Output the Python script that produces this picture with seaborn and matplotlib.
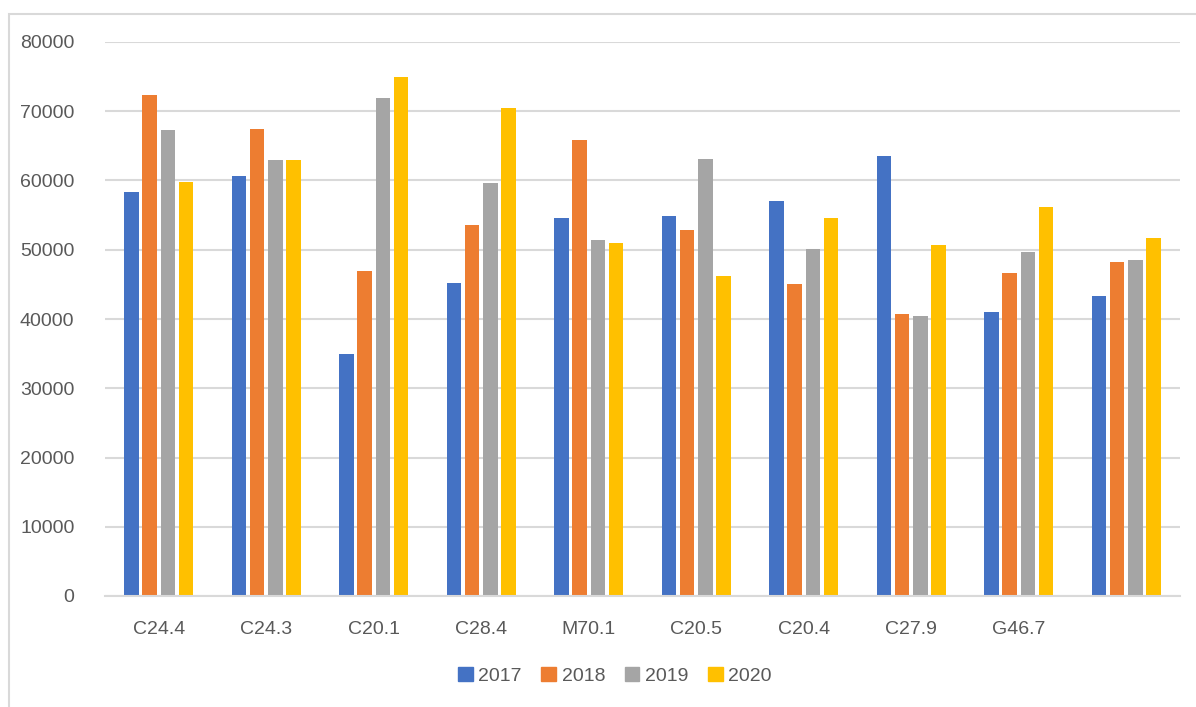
import matplotlib
matplotlib.use("Agg")
import matplotlib.pyplot as plt
from matplotlib.patches import Rectangle
import seaborn as sns
import pandas as pd

# category labels (last group has no label in the source)
categories = ['C24.4', 'C24.3', 'C20.1', 'C28.4', 'M70.1', 'C20.5', 'C20.4', 'C27.9', 'G46.7', ' ']
years = ['2017', '2018', '2019', '2020']

# values
values_2017 = [58300, 60600, 35000, 45150, 54570, 54900, 57100, 63500, 41000, 43300]
values_2018 = [72300, 67500, 46900, 53560, 65820, 52900, 45070, 40680, 46650, 48170]
values_2019 = [67260, 63000, 71880, 59570, 51340, 63130, 50140, 40480, 49610, 48560]
values_2020 = [59760, 63000, 74950, 70430, 50960, 46280, 54570, 50750, 56190, 51730]

colors = ['#4472C4', '#ED7D31', '#A5A5A5', '#FFC000']
text_color = '#595959'
grid_color = '#D9D9D9'

# build long-form table for seaborn
rows = []
for year, vals in zip(years, [values_2017, values_2018, values_2019, values_2020]):
    for cat, v in zip(categories, vals):
        rows.append({'category': cat, 'year': year, 'value': v})
df = pd.DataFrame(rows)

sns.set_theme(style='white')
plt.rcParams['font.family'] = ['Liberation Sans', 'DejaVu Sans']

fig = plt.figure(figsize=(11.96, 7.07), dpi=100)
ax = fig.add_axes([105 / 1196, 1 - 596 / 707, (1180 - 105) / 1196, (596 - 42) / 707])

sns.barplot(data=df, x='category', y='value', hue='year', palette=colors,
            saturation=1, width=0.68, gap=0.2, ax=ax, edgecolor='none', legend=False)

# axes styling
ax.set_ylim(0, 80000)
ax.set_yticks(range(0, 80001, 10000))
ax.set_xlim(-0.5, len(categories) - 0.5)
ax.yaxis.grid(True, color=grid_color, linewidth=1.5)
ax.set_axisbelow(True)
for side in ['top', 'right', 'left']:
    ax.spines[side].set_visible(False)
ax.spines['bottom'].set_color(grid_color)
ax.spines['bottom'].set_linewidth(1.5)
ax.tick_params(axis='both', length=0, labelsize=14, colors=text_color)
ax.tick_params(axis='y', pad=22)
ax.tick_params(axis='x', pad=18)
ax.set_xlabel('')
ax.set_ylabel('')

# legend below the plot
handles = [Rectangle((0, 0), 1, 1, color=c) for c in colors]
fig.legend(handles, years, loc='center', bbox_to_anchor=(615 / 1196, 1 - 676 / 707),
           ncol=4, frameon=False, fontsize=14, handlelength=0.75, handleheight=0.75,
           handletextpad=0.3, columnspacing=1.0, labelcolor=text_color)

# chart area border (top and left edges visible in the crop)
fig.patches.append(Rectangle((9 / 1196, -0.1), 1.2, 1 - 14 / 707 + 0.1,
                             transform=fig.transFigure, fill=False,
                             edgecolor=grid_color, linewidth=1.5))

fig.savefig('out.png', dpi=100)
